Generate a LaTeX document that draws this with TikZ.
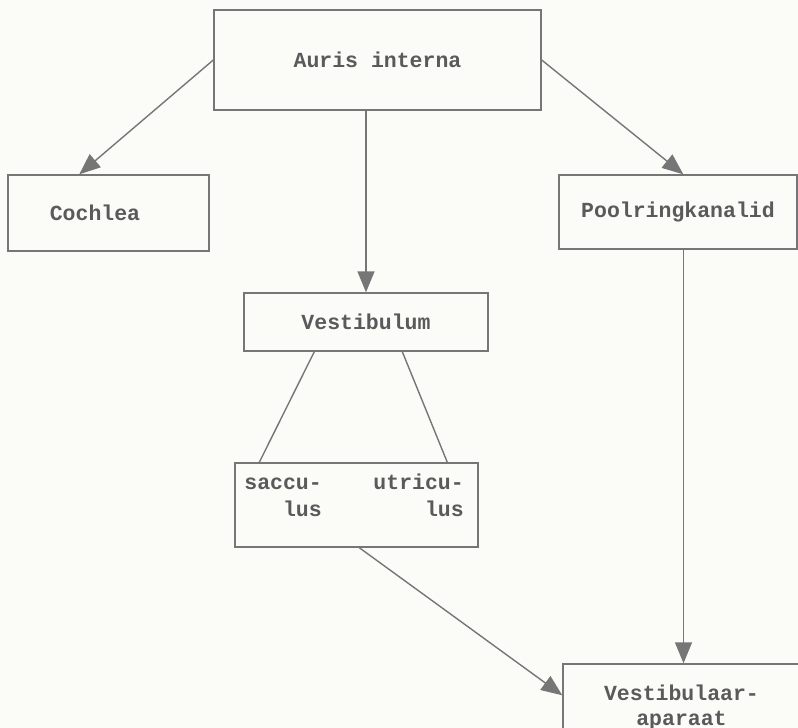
\documentclass[tikz,border=0pt]{standalone}
\usepackage{fontspec}
\setmonofont{Liberation Mono}
\usetikzlibrary{arrows.meta,calc}
\definecolor{ink}{HTML}{767676}
\definecolor{txt}{HTML}{5A5A5A}
\definecolor{paper}{HTML}{FBFBF8}
\tikzset{
  box/.style={draw=ink, line width=1.4pt, rectangle, inner sep=0pt, text=txt,
    font=\ttfamily\bfseries\fontsize{21.5}{25}\selectfont},
  lbl/.style={inner sep=0pt, text=txt, anchor=base east,
    font=\ttfamily\bfseries\fontsize{21.5}{27}\selectfont},
  conn/.style={draw=ink, line width=1.4pt},
  arr/.style={conn, -{Triangle[length=21pt,width=17pt]}}
}
\begin{document}
\begin{tikzpicture}[x=1pt,y=-1pt]
\fill[paper] (0,0) rectangle (798,728);
\useasboundingbox (0,0) rectangle (798,728);
\begin{scope}
\clip (0,0) rectangle (798,728);
\node[box, minimum width=327pt, minimum height=100pt] (auris) at (377.5,60) {Auris interna};
\node[box, minimum width=201pt, minimum height=76pt] (cochlea) at (108.5,213) {Cochlea\kern27pt};
\node[box, minimum width=238pt, minimum height=74pt] (pool) at (678,212) {Poolringkanalid};
\node[box, minimum width=244pt, minimum height=58pt] (vest) at (366,322) {Vestibulum};
\node[box, minimum width=243pt, minimum height=84pt] (sacc) at (356.5,505) {};
\node[lbl] (sacc1) at (322,489) {saccu-};
\node[lbl] (sacc2) at (322,516) {lus};
\node[lbl] (utri1) at (464,489) {utricu-};
\node[lbl] (utri2) at (464,516) {lus};
\node[box, minimum width=237pt, minimum height=86pt, align=center] (vapp) at (681.5,707) {Vestibulaar-\\aparaat};
\draw[arr] (auris.west) -- ($(cochlea.north west)+(72,0)$);
\draw[arr] (auris.east) -- ($(pool.north west)+(125,0)$);
\draw[arr] (auris.south -| vest.north) -- (vest.north);
\draw[conn] ($(vest.south west)+(71,0)$) -- ($(sacc.north west)+(25,0)$);
\draw[conn] ($(vest.south west)+(159,0)$) -- ($(sacc.north west)+(213,0)$);
\draw[arr] ($(sacc.south west)+(125,0)$) -- ($(vapp.north west)+(0,32)$);
\coordinate (vtop) at ($(vapp.north)+(2,0)$);
\draw[arr] (pool.south -| vtop) -- (vtop);
\end{scope}
\end{tikzpicture}
\end{document}
